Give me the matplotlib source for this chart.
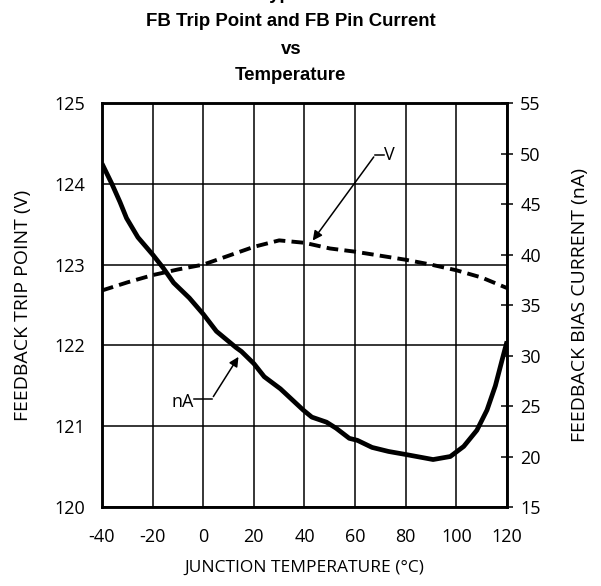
import numpy as np
import matplotlib.pyplot as plt

plt.rcParams['axes.unicode_minus'] = False

# temperature (degC) vs feedback trip point (left axis)
temp_v = [-40, -30, -20, -10, 0, 10, 20, 30, 40, 50, 60, 70, 80, 90, 100, 110, 120]
trip_v = [122.68, 122.78, 122.87, 122.94, 123.00, 123.11, 123.22, 123.30, 123.27, 123.20, 123.16, 123.11, 123.06, 123.00, 122.93, 122.84, 122.71]

# temperature vs FB bias current (right axis)
temp_i = [-40, -36.1, -32.9, -30.3, -25.8, -20, -15.9, -11.7, -5.5, 0, 5.2, 12.9, 15.1, 20, 24.1, 30.5,
          39.5, 42.9, 48.7, 52.5, 57.7, 60.9, 66.7, 73.2, 80, 90.8, 97.6, 102.9, 108.1, 112.1, 115.4, 118.0, 120]
bias_i = [49.0, 47.0, 45.2, 43.6, 41.7, 40.0, 38.7, 37.2, 35.7, 34.1, 32.4, 30.8, 30.4, 29.2, 27.9, 26.7,
          24.6, 23.9, 23.4, 22.8, 21.8, 21.6, 20.9, 20.5, 20.2, 19.7, 20.0, 21.0, 22.6, 24.6, 27.0, 29.5, 31.4]

x_ticks = [-40, -20, 0, 20, 40, 60, 80, 100, 120]
left_ticks = [120, 121, 122, 123, 124, 125]
right_ticks = [15, 20, 25, 30, 35, 40, 45, 50, 55]

tick_font = 'Open Sans'

fig = plt.figure(figsize=(6.01, 5.86), dpi=100)
ax = fig.add_axes([0.1697, 0.1348, 0.6739, 0.6894])
ax2 = ax.twinx()

ax.plot(temp_v, trip_v, color='black', lw=2.8, dashes=(3.0, 1.6), zorder=3)
ax2.plot(temp_i, bias_i, color='black', lw=3.4, solid_capstyle='butt', solid_joinstyle='round', zorder=3)

ax.set_xlim(-40, 120)
ax.set_ylim(120, 125)
ax2.set_ylim(15, 55)
ax.set_xticks(x_ticks)
ax.set_yticks(left_ticks)
ax2.set_yticks(right_ticks)
ax.grid(True, color='black', lw=1.1)
ax.tick_params(axis='x', length=0, pad=15, labelsize=13)
ax.tick_params(axis='y', length=0, pad=12, labelsize=13)
ax2.tick_params(axis='y', direction='inout', length=9, width=1.1, pad=5, labelsize=13)
for lab in ax.get_xticklabels() + ax.get_yticklabels() + ax2.get_yticklabels():
    lab.set_fontfamily(tick_font)

for a in (ax, ax2):
    for s in a.spines.values():
        s.set_linewidth(1.8)

ax.set_xlabel('JUNCTION TEMPERATURE (°C)', fontfamily=tick_font, fontsize=12.5, labelpad=10)
ax.set_ylabel('FEEDBACK TRIP POINT (V)', fontfamily=tick_font, fontsize=14, labelpad=16)
ax2.set_ylabel('FEEDBACK BIAS CURRENT (nA)', fontfamily=tick_font, fontsize=14, labelpad=22)

# leader labels
ax.plot([68.0, 71.5], [124.36, 124.36], color='black', lw=1.1)
ax.annotate('', xy=(42.6, 123.27), xytext=(68.0, 124.36),
            arrowprops=dict(arrowstyle='-|>', color='black', lw=1.1, mutation_scale=14))
ax.text(71.3, 124.36, 'V', fontfamily=tick_font, fontsize=13, va='center', ha='left')

ax2.plot([-3.5, 3.4], [25.7, 25.7], color='black', lw=1.1)
ax2.annotate('', xy=(14.5, 30.1), xytext=(3.4, 25.7),
             arrowprops=dict(arrowstyle='-|>', color='black', lw=1.1, mutation_scale=14))
ax2.text(-3.8, 25.4, 'nA', fontfamily=tick_font, fontsize=13, va='center', ha='right')

title_kw = dict(ha='center', va='center', fontfamily='Liberation Sans', fontweight='bold', fontsize=13.4)
fig.text(0.484, 1.0 - 22 / 586, 'FB Trip Point and FB Pin Current', **title_kw)
fig.text(0.484, 1.0 - 49 / 586, 'vs', **title_kw)
fig.text(0.484, 1.0 - 76 / 586, 'Temperature', **title_kw)
fig.text(0.484, 1.0 + 1 / 586, 'Typical', ha='center', va='baseline', fontfamily='Liberation Sans',
         fontweight='bold', fontsize=13.4)

fig.savefig('out.png', dpi=100)
